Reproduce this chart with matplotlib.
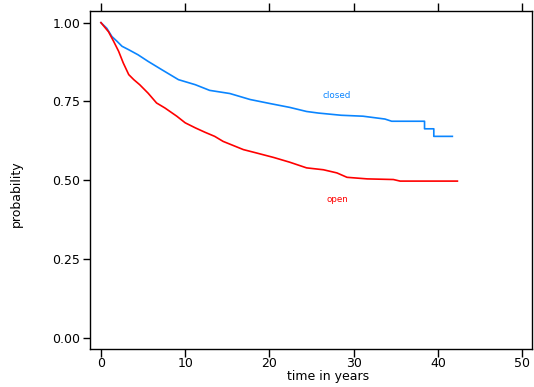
import matplotlib
matplotlib.use("Agg")
import matplotlib.pyplot as plt

plt.rcParams['font.family'] = ['DejaVu Sans']

# survival curves (time in years, probability)
closed_t = [0, 0.7, 1.3, 1.9, 2.5, 3.3, 4.4, 5.6, 7.2, 9.2, 11.2, 12.9, 15.3, 17.7,
            20.1, 22.4, 24.4, 25.8, 28.5, 31.1, 33.7, 34.5, 38.4, 38.4, 39.5, 39.5, 41.7]
closed_s = [1.0, 0.982, 0.956, 0.941, 0.925, 0.914, 0.898, 0.877, 0.851, 0.819, 0.803,
            0.785, 0.775, 0.756, 0.743, 0.731, 0.718, 0.713, 0.706, 0.703, 0.694, 0.687,
            0.687, 0.663, 0.663, 0.639, 0.639]

open_t = [0, 0.9, 1.5, 2.1, 2.65, 3.3, 3.9, 4.6, 5.6, 6.6, 7.6, 9.0, 10.0, 11.2, 12.35,
          13.5, 14.5, 16.9, 18.5, 20.5, 22.4, 24.4, 26.4, 28.0, 29.2, 31.6, 34.7, 35.5, 42.3]
open_s = [1.0, 0.971, 0.941, 0.909, 0.872, 0.835, 0.819, 0.803, 0.776, 0.745, 0.729,
          0.703, 0.682, 0.666, 0.652, 0.639, 0.623, 0.597, 0.586, 0.572, 0.557, 0.539,
          0.533, 0.523, 0.509, 0.504, 0.502, 0.497, 0.497]

x_ticks = [0, 10, 20, 30, 40, 50]
y_ticks = [0.0, 0.25, 0.5, 0.75, 1.0]
y_labels = ["0.00", "0.25", "0.50", "0.75", "1.00"]

blue = "#0a85ff"
red = "#ff0000"

fig = plt.figure(figsize=(5.34, 3.87), dpi=100)
ax = fig.add_axes([0.1685, 0.0982, 0.8285, 0.8734])

ax.plot(closed_t, closed_s, color=blue, lw=1.2)
ax.plot(open_t, open_s, color=red, lw=1.2)

ax.text(28.0, 0.770, "closed", color=blue, fontsize=6.3, ha="center", va="center")
ax.text(28.0, 0.437, "open", color=red, fontsize=6.3, ha="center", va="center")

ax.set_xlim(-1.3, 51.2)
ax.set_ylim(-0.036, 1.037)
ax.set_xticks(x_ticks)
ax.set_yticks(y_ticks)
ax.set_yticklabels(y_labels)

ax.tick_params(axis="x", direction="out", length=5.5, width=1, top=True, labeltop=False,
               labelsize=9, pad=0.5)
ax.tick_params(axis="y", direction="out", length=5, width=1, right=False,
               labelsize=9, pad=2)
for s in ax.spines.values():
    s.set_linewidth(1)

ax.set_xlabel("time in years", fontsize=9)
ax.set_ylabel("probability", fontsize=9)
ax.xaxis.set_label_coords(0.538, -0.063)
ax.yaxis.set_label_coords(-0.152, 0.46)

fig.savefig("out.png", dpi=100)
